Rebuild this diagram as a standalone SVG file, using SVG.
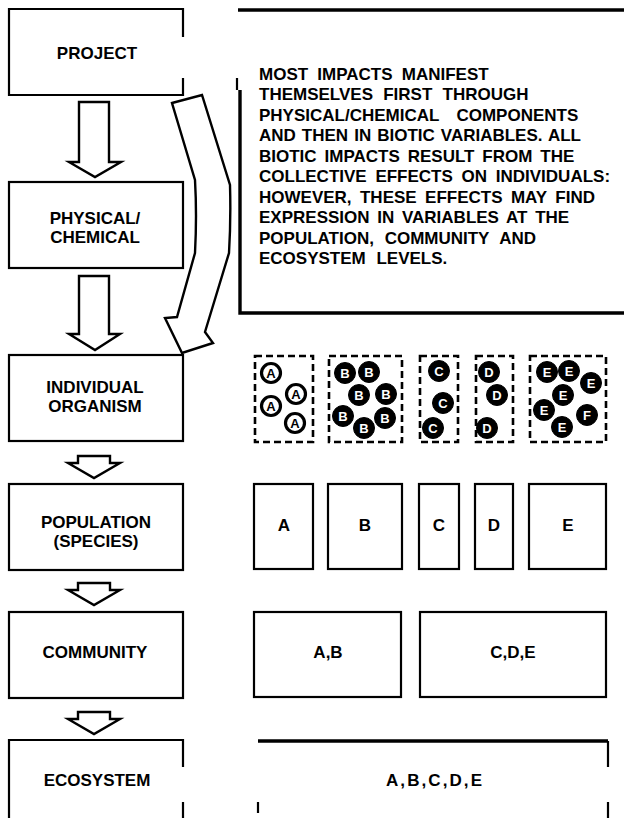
<svg xmlns="http://www.w3.org/2000/svg" width="624" height="818" viewBox="0 0 624 818">
<style>
.bx{fill:none;stroke:#000;stroke-width:2.2}
.dash{fill:none;stroke:#000;stroke-width:2.6;stroke-dasharray:7 4}
.thick{fill:none;stroke:#000;stroke-width:3.4}
.ar{fill:#fff;stroke:#000;stroke-width:2.4;stroke-linejoin:miter}
.t{font-family:"Liberation Sans",Arial,sans-serif;font-weight:bold;font-size:17px;fill:#000}
.c{text-anchor:middle}
.ring{fill:#fff;stroke:#000;stroke-width:3.2}
.disc{fill:#000;stroke:#000;stroke-width:1}
.cl{font-family:"Liberation Sans",Arial,sans-serif;font-weight:bold;font-size:13px;text-anchor:middle}
</style>
<rect width="624" height="818" fill="#fff"/>

<g id="project">
<path class="bx" d="M183,37 V9 H9 V95 H183 V78"/>
<text class="t c" x="97" y="59">PROJECT</text>
</g>

<g id="physical">
<rect class="bx" x="9" y="182" width="174" height="86"/>
<text class="t c" x="95" y="224">PHYSICAL/</text>
<text class="t c" x="95" y="243">CHEMICAL</text>
</g>

<g id="individual">
<rect class="bx" x="9" y="355" width="174" height="86"/>
<text class="t c" x="95" y="393">INDIVIDUAL</text>
<text class="t c" x="95" y="412">ORGANISM</text>
</g>

<g id="population">
<rect class="bx" x="9" y="484" width="174" height="86"/>
<text class="t c" x="96" y="528">POPULATION</text>
<text class="t c" x="96" y="547">(SPECIES)</text>
</g>

<g id="community">
<rect class="bx" x="9" y="612" width="174" height="86"/>
<text class="t c" x="95" y="658">COMMUNITY</text>
</g>

<g id="ecosystem">
<path class="bx" d="M9,818 V740 H183 V767 M183,802 V818"/>
<text class="t c" x="97" y="786">ECOSYSTEM</text>
</g>

<g id="note">
<path class="thick" d="M238,10 H624"/>
<path class="bx" d="M237,78 V90"/>
<path class="thick" d="M240,90 V313 H624"/>
<text class="t">
<tspan x="259" y="80" word-spacing="4.5">MOST IMPACTS MANIFEST</tspan>
<tspan x="259" y="100.4" word-spacing="5.5">THEMSELVES FIRST THROUGH</tspan>
<tspan x="259" y="120.9" word-spacing="12.6">PHYSICAL/CHEMICAL COMPONENTS</tspan>
<tspan x="259" y="141.3" word-spacing="1.3">AND THEN IN BIOTIC VARIABLES. ALL</tspan>
<tspan x="259" y="161.8" word-spacing="3.2">BIOTIC IMPACTS RESULT FROM THE</tspan>
<tspan x="259" y="182.2" word-spacing="4">COLLECTIVE EFFECTS ON INDIVIDUALS:</tspan>
<tspan x="259" y="202.6" word-spacing="3.7">HOWEVER, THESE EFFECTS MAY FIND</tspan>
<tspan x="259" y="223.1" word-spacing="3">EXPRESSION IN VARIABLES AT THE</tspan>
<tspan x="259" y="243.5" word-spacing="6">POPULATION, COMMUNITY AND</tspan>
<tspan x="259" y="264" word-spacing="6">ECOSYSTEM LEVELS.</tspan>
</text>
</g>

<g id="individuals-A">
<rect class="dash" x="255" y="356" width="58" height="86"/>
<circle class="ring" cx="271" cy="373" r="9.5"/><text class="cl" x="271" y="377.8">A</text>
<circle class="ring" cx="296" cy="394" r="9.5"/><text class="cl" x="296" y="398.8">A</text>
<circle class="ring" cx="271" cy="406" r="9.5"/><text class="cl" x="271" y="410.8">A</text>
<circle class="ring" cx="295" cy="423" r="9.5"/><text class="cl" x="295" y="427.8">A</text>
</g>
<g id="individuals-B">
<rect class="dash" x="329" y="356" width="73" height="86"/>
<g fill="#fff">
<circle class="disc" cx="345" cy="373" r="10.5"/><text class="cl" x="345" y="377.8">B</text>
<circle class="disc" cx="369" cy="372" r="10.5"/><text class="cl" x="369" y="376.8">B</text>
<circle class="disc" cx="359" cy="395" r="10.5"/><text class="cl" x="359" y="399.8">B</text>
<circle class="disc" cx="386" cy="394" r="10.5"/><text class="cl" x="386" y="398.8">B</text>
<circle class="disc" cx="343" cy="416" r="10.5"/><text class="cl" x="343" y="420.8">B</text>
<circle class="disc" cx="385" cy="418" r="10.5"/><text class="cl" x="385" y="422.8">B</text>
<circle class="disc" cx="364" cy="428" r="10.5"/><text class="cl" x="364" y="432.8">B</text>
</g>
</g>
<g id="individuals-C">
<rect class="dash" x="420" y="356" width="38" height="86"/>
<g fill="#fff">
<circle class="disc" cx="439" cy="371" r="10.5"/><text class="cl" x="439" y="375.8">C</text>
<circle class="disc" cx="443" cy="403" r="10.5"/><text class="cl" x="443" y="407.8">C</text>
<circle class="disc" cx="433" cy="428" r="10.5"/><text class="cl" x="433" y="432.8">C</text>
</g>
</g>
<g id="individuals-D">
<rect class="dash" x="476" y="356" width="37" height="86"/>
<g fill="#fff">
<circle class="disc" cx="489" cy="372" r="10.5"/><text class="cl" x="489" y="376.8">D</text>
<circle class="disc" cx="497" cy="395" r="10.5"/><text class="cl" x="497" y="399.8">D</text>
<circle class="disc" cx="487" cy="428" r="10.5"/><text class="cl" x="487" y="432.8">D</text>
</g>
</g>
<g id="individuals-E">
<rect class="dash" x="530" y="356" width="76" height="86"/>
<g fill="#fff">
<circle class="disc" cx="547" cy="372" r="10.5"/><text class="cl" x="547" y="376.8">E</text>
<circle class="disc" cx="569" cy="371" r="10.5"/><text class="cl" x="569" y="375.8">E</text>
<circle class="disc" cx="591" cy="383" r="10.5"/><text class="cl" x="591" y="387.8">E</text>
<circle class="disc" cx="563" cy="395" r="10.5"/><text class="cl" x="563" y="399.8">E</text>
<circle class="disc" cx="544" cy="410" r="10.5"/><text class="cl" x="544" y="414.8">E</text>
<circle class="disc" cx="587" cy="415" r="10.5"/><text class="cl" x="587" y="419.8">F</text>
<circle class="disc" cx="562" cy="427" r="10.5"/><text class="cl" x="562" y="431.8">E</text>
</g>
</g>

<g id="pop-A"><rect class="bx" x="254" y="484" width="59" height="85"/><text class="t c" x="284" y="531">A</text></g>
<g id="pop-B"><rect class="bx" x="328" y="484" width="74" height="85"/><text class="t c" x="365" y="531">B</text></g>
<g id="pop-C"><rect class="bx" x="419" y="484" width="40" height="85"/><text class="t c" x="439" y="531">C</text></g>
<g id="pop-D"><rect class="bx" x="475" y="484" width="38" height="85"/><text class="t c" x="494" y="531">D</text></g>
<g id="pop-E"><rect class="bx" x="529" y="484" width="77" height="85"/><text class="t c" x="568" y="531">E</text></g>

<g id="comm-AB"><rect class="bx" x="254" y="612" width="147" height="85"/><text class="t c" x="328" y="658">A,B</text></g>
<g id="comm-CDE"><rect class="bx" x="420" y="612" width="186" height="85"/><text class="t c" x="513" y="658">C,D,E</text></g>

<g id="eco-all">
<path class="thick" d="M258,741 H608"/>
<path class="bx" d="M608,741 V767 M608,802 V818 M258,802 V813"/>
<text class="t c" x="434" y="786" textLength="96" lengthAdjust="spacing">A,B,C,D,E</text>
</g>

<g id="connectors">
<path class="ar" d="M79,102 H109 V162 H121 L95,177 L69,162 H79 Z"/>
<path class="ar" d="M79,276 H109 V334 H120 L95,350 L69,334 H79 Z"/>
<path class="ar" d="M78,456 H110 V463 H120 L94,478 L68,463 H78 Z"/>
<path class="ar" d="M78,583 H110 V590 H120 L94,605 L68,590 H78 Z"/>
<path class="ar" d="M78,712 H110 V719 H120 L94,734 L68,719 H78 Z"/>
<path class="ar" d="M172,103 L202,95 L230,185 Q231,220 229,253 L205,332 L213,343 L182,353 L165,318 L177,317 L195,253 Q197,215 195,180 Z"/>
</g>
</svg>
